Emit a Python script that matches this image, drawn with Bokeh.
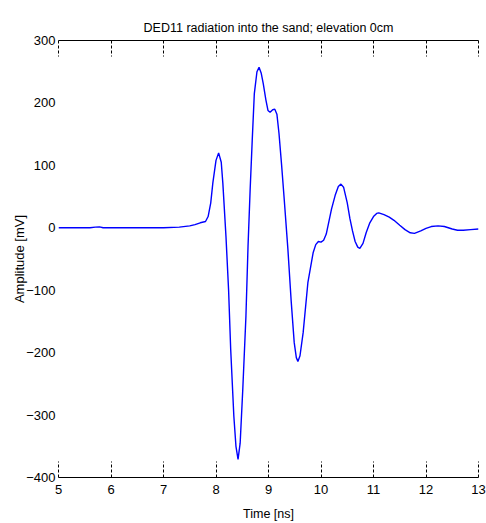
from bokeh.plotting import figure
from bokeh.models import LinearAxis, FixedTicker, Range1d
from bokeh.embed import file_html
from bokeh.resources import INLINE

# Time [ns] and amplitude [mV]
time_ns = [5.0, 5.6, 5.7, 5.78, 5.85, 6.5, 7.0, 7.3, 7.5, 7.6, 7.7, 7.8, 7.85, 7.9, 7.94,
           8.0, 8.05, 8.1, 8.13, 8.19, 8.24, 8.28, 8.34, 8.38, 8.42, 8.46, 8.51, 8.57,
           8.61, 8.65, 8.69, 8.73, 8.78, 8.82, 8.86, 8.9, 8.95, 8.99, 9.03, 9.08, 9.12,
           9.16, 9.2, 9.25, 9.3, 9.37, 9.43, 9.49, 9.53, 9.56, 9.6, 9.66, 9.75, 9.85,
           9.9, 9.95, 10.0, 10.05, 10.1, 10.15, 10.2, 10.27, 10.33, 10.38, 10.43, 10.5,
           10.55, 10.6, 10.65, 10.7, 10.74, 10.8, 10.86, 10.93, 11.0, 11.06, 11.1, 11.2,
           11.3, 11.39, 11.5, 11.6, 11.7, 11.78, 11.9, 12.0, 12.1, 12.23, 12.35, 12.5,
           12.6, 12.71, 12.85, 13.0]
amplitude_mv = [0, 0, 1, 1.5, 0, 0, 0, 1, 3, 5, 8, 10, 18, 40, 72,
                108, 120, 105, 72, -14, -100, -195, -302, -350, -371, -345, -259, -142,
                -30, 60, 140, 215, 250, 257, 248, 231, 205, 188, 185, 189, 190,
                182, 151, 100, 45, -35, -115, -184, -208, -214, -205, -168, -88, -40,
                -27, -22, -23, -20, -10, 10, 30, 52, 66, 70, 65, 40,
                15, -5, -22, -31, -33, -25, -8, 8, 18, 23, 24, 21,
                17, 12, 4, -3, -8, -9, -5, -1, 2, 3, 2, -2,
                -4, -4, -3, -2]

x_ticks = [5, 6, 7, 8, 9, 10, 11, 12, 13]
y_ticks = [-400, -300, -200, -100, 0, 100, 200, 300]

FONT = "Liberation Sans"

p = figure(width=486, height=523, output_backend="svg", toolbar_location=None,
           x_range=Range1d(5, 13), y_range=Range1d(-400, 300),
           x_axis_location=None, y_axis_location=None,
           min_border_left=58, min_border_right=8, min_border_top=40, min_border_bottom=45,
           title="DED11 radiation into the sand; elevation 0cm")
p.outline_line_color = None
p.xgrid.visible = False
p.ygrid.visible = False
p.background_fill_color = "white"
p.border_fill_color = "white"

p.title.text_font = FONT
p.title.text_font_size = "12.5px"
p.title.text_font_style = "normal"
p.title.text_color = "black"
p.title.align = "center"
p.title.offset = 0
p.title.standoff = 12

def x_axis(labels):
    ax = LinearAxis(ticker=FixedTicker(ticks=x_ticks))
    ax.axis_line_color = "black"
    ax.axis_line_width = 1
    ax.major_tick_in = 16
    ax.major_tick_out = 0
    ax.minor_tick_in = 0
    ax.minor_tick_out = 0
    ax.major_tick_line_color = "black"
    ax.major_tick_line_dash = "3 2"
    if labels:
        ax.major_label_text_font = FONT
        ax.major_label_text_font_size = "13px"
        ax.major_label_text_color = "black"
        ax.major_label_standoff = 7
        ax.axis_label = "Time [ns]"
        ax.axis_label_text_font = FONT
        ax.axis_label_text_font_size = "12.5px"
        ax.axis_label_text_font_style = "normal"
        ax.axis_label_text_color = "black"
        ax.axis_label_standoff = 10
    else:
        ax.major_label_overrides = {t: "" for t in x_ticks}
        ax.major_label_standoff = 0
    return ax

p.add_layout(x_axis(True), "below")
p.add_layout(x_axis(False), "above")

ya = LinearAxis(ticker=FixedTicker(ticks=y_ticks))
ya.axis_line_color = None
ya.major_tick_line_color = None
ya.minor_tick_line_color = None
ya.major_tick_in = 0
ya.major_tick_out = 0
ya.major_label_text_font = FONT
ya.major_label_text_font_size = "13px"
ya.major_label_text_color = "black"
ya.major_label_standoff = 3
ya.axis_label = "Amplitude [mV]"
ya.axis_label_text_font = FONT
ya.axis_label_text_font_size = "13px"
ya.axis_label_text_font_style = "normal"
ya.axis_label_text_color = "black"
ya.axis_label_standoff = -4
p.add_layout(ya, "left")

p.line(time_ns, amplitude_mv, line_color="#0000ff", line_width=1.4)

open("out.html", "w").write(file_html(p, INLINE))
